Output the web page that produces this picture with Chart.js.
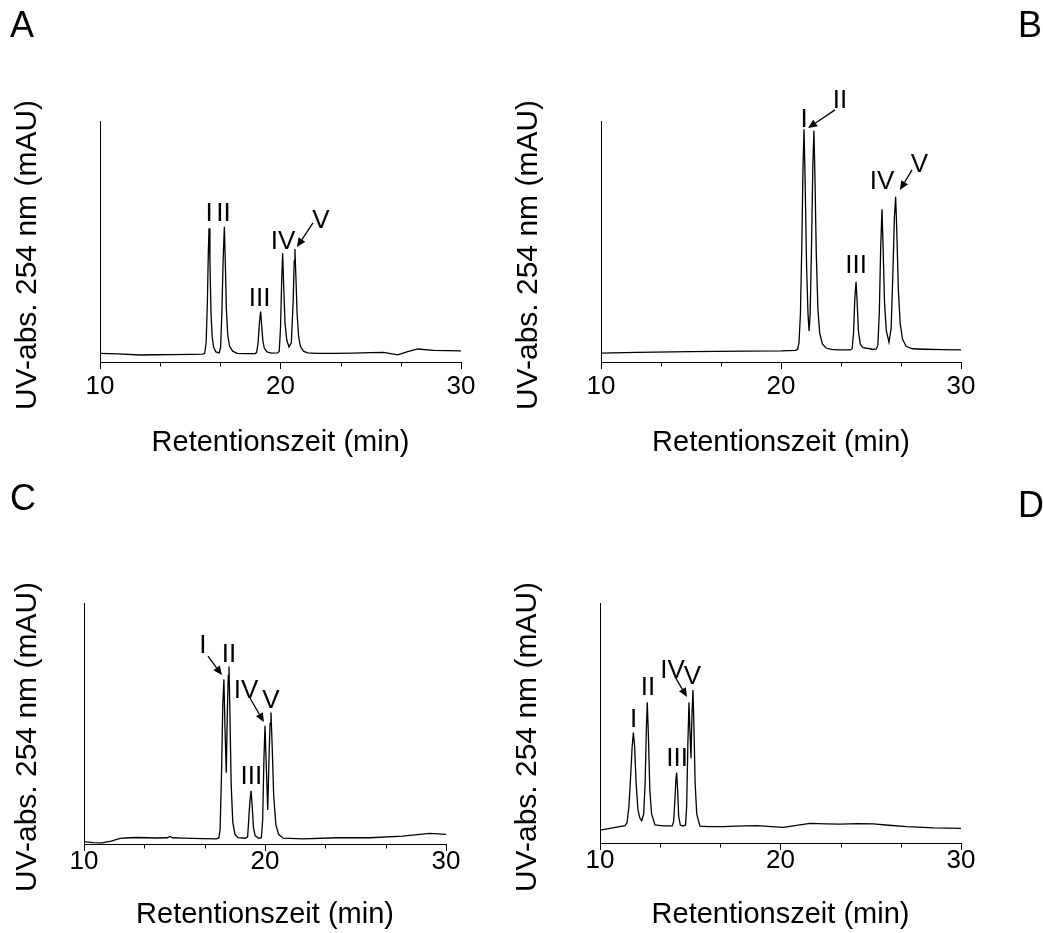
<!DOCTYPE html>
<html>
<head>
<meta charset="utf-8">
<script src="https://cdn.jsdelivr.net/npm/chart.js@4/dist/chart.umd.min.js"></script>
<style>
  html, body { margin: 0; padding: 0; background: #ffffff; }
  body { width: 1043px; height: 933px; position: relative; overflow: hidden; }
  canvas { position: absolute; left: 0; top: 0; }
</style>
</head>
<body>
<canvas id="cA" width="1043" height="933"></canvas>
<canvas id="cB" width="1043" height="933"></canvas>
<canvas id="cC" width="1043" height="933"></canvas>
<canvas id="cD" width="1043" height="933"></canvas>
<script>
// ---------------- data ----------------
const xTickValues = [10, 20, 30];
const xMinorTicks = [13.333, 16.667, 23.333, 26.667];
const xTitle = 'Retentionszeit (min)';
const yTitle = 'UV-abs. 254 nm (mAU)';
const peakNames = ['I', 'II', 'III', 'IV', 'V'];

// chromatogram traces: [retention time (min), absorbance (rel. units)]
const traceA = [
  [10,3.6],[11,3.4],[12.2,2.9],[13,3.0],[14,3.1],[15,3.2],[15.7,3.3],
  [15.8,3.6],[15.88,8],[15.95,25],[16.0,45],[16.04,55.5],[16.09,42],[16.15,20],[16.22,10],[16.3,6],[16.42,4.2],
  [16.6,3.8],[16.68,6],[16.75,20],[16.82,42],[16.89,56.1],[16.94,42],[17.0,22],[17.08,11],[17.18,6.5],[17.35,4.5],[17.6,3.6],
  [18.0,3.5],[18.6,3.5],
  [18.68,4],[18.76,8],[18.84,17],[18.9,20.9],[18.95,16],[19.02,9],[19.1,5.8],[19.25,4.2],[19.5,3.7],
  [19.85,3.8],[19.93,4.5],[20.0,14],[20.07,35],[20.12,45.1],[20.17,33],[20.25,16],[20.35,9],[20.47,6.3],
  [20.6,8],[20.7,25],[20.76,42],[20.8,46.9],[20.85,36],[20.92,20],[21.0,11],[21.1,6.5],[21.27,4.5],[21.5,3.8],
  [22,3.6],[23,3.6],[24,3.7],[25,3.9],[25.7,4.0],[26.5,3.0],[27.0,4.2],[27.6,5.4],[28.5,4.8],[30,4.6]
];
const traceB = [
  [10,3.7],[12,4.0],[15,4.3],[18,4.5],[20,4.6],[20.8,4.8],
  [20.92,5.2],[21.0,8],[21.08,20],[21.16,50],[21.22,80],[21.28,96.6],[21.34,75],[21.42,40],[21.5,20],[21.56,12.9],
  [21.62,20],[21.7,50],[21.77,82],[21.83,96],[21.89,75],[21.96,45],[22.05,22],[22.15,12],[22.3,7.5],[22.5,5.8],[22.8,5.2],[23.2,5.0],
  [23.85,5.0],[23.95,5.5],[24.03,12],[24.1,26],[24.17,33.3],[24.23,25],[24.3,13],[24.4,7.5],[24.55,6],[24.76,5.7],[24.9,5.6],[25.1,5.2],[25.3,5.4],
  [25.38,7],[25.46,20],[25.54,48],[25.61,63.4],[25.67,48],[25.75,25],[25.85,13],[26.0,8.2],
  [26.12,14],[26.22,38],[26.3,60],[26.37,68.6],[26.43,55],[26.52,30],[26.62,16],[26.75,9.5],[26.95,6.5],[27.3,5.5],
  [28,5.3],[29,5.1],[30,5.0]
];
const traceC = [
  [10,1.0],[10.5,0.6],[11,0.5],[11.5,1.2],[12,2.3],[12.5,2.6],[13,2.7],[14,2.5],[14.6,2.6],[14.75,3.1],[14.9,2.6],
  [15.5,2.4],[16.5,2.2],[17.3,2.1],[17.45,2.5],
  [17.52,6],[17.6,30],[17.67,58],[17.73,68.3],[17.79,48],[17.86,29.6],
  [17.92,55],[17.97,70],[18.01,73.6],[18.06,55],[18.13,25],[18.22,9],[18.34,4],[18.5,2.6],[18.9,2.4],
  [19.04,3],[19.1,10],[19.17,18],[19.23,22.1],[19.29,16],[19.36,7],[19.45,3.5],[19.65,2.4],
  [19.8,2.6],[19.87,10],[19.94,35],[20.0,49.1],[20.06,35],[20.15,14.1],
  [20.22,35],[20.28,50],[20.33,54.6],[20.39,42],[20.48,20],[20.6,8],[20.75,4],[21.0,2.4],
  [22.1,2.1],[24,2.6],[25.8,2.6],[27.6,3.3],[29.1,4.4],[30,4.0]
];
const traceD = [
  [10,5.4],[10.7,6.3],[11.39,7.2],
  [11.5,8.5],[11.6,15],[11.7,28],[11.78,40],[11.85,46],[11.92,40],[12.0,25],[12.1,14],[12.2,10.5],[12.31,9.3],
  [12.42,12],[12.5,25],[12.57,48],[12.62,58.6],[12.68,45],[12.76,22],[12.86,12],[13.05,7.5],[13.5,7.1],[14.0,7.1],
  [14.08,9],[14.15,18],[14.21,27],[14.25,29.3],[14.3,22],[14.36,11],[14.45,7.5],[14.6,7.1],
  [14.74,7.5],[14.8,15],[14.87,42],[14.93,58.6],[14.98,47],[15.04,35.3],
  [15.09,52],[15.15,63.75],[15.2,50],[15.27,25],[15.36,12],[15.54,7],
  [16,6.8],[16.83,6.8],[17.5,7.0],[18.68,7.2],[19.5,6.8],[20.16,6.5],[20.8,7.2],[21.63,8.2],[22.5,8.0],
  [23.3,7.9],[24.3,8.1],[25.14,8.0],[26,7.4],[26.99,6.8],[28.5,6.3],[30,6.1]
];

// peak label anchors (time, absorbance) in order I..V
const labelAnchorsA = [[16.04,58.5],[16.84,58.5],[18.84,23.2],[20.14,46.9],[22.24,55.6]];
const labelAnchorsB = [[21.28,97.5],[23.28,105.4],[24.17,36.9],[25.61,71.8],[27.69,78.8]];
const labelAnchorsC = [[16.57,79.3],[18.01,75.5],[19.25,24.9],[18.95,60.6],[20.33,56.6]];
const labelAnchorsD = [[11.86,48.3],[12.66,61.7],[14.27,32.1],[14.02,68.75],[15.12,66.25]];
// arrows [fromTime, fromAbs, toTime, toAbs]
const arrowsA = [[21.80,57.7,20.91,47.7]];
const arrowsB = [[23.0,104.6,21.5,97.1],[27.28,79.7,26.61,71.4]];
const arrowsC = [[16.85,78.0,17.62,70.1],[19.17,60.6,19.94,50.6]];
const arrowsD = [[14.16,69.2,14.82,60.8]];

// ---------------- layout / style ----------------
const FONT = '"Liberation Sans", Arial, Helvetica, sans-serif';
const TICK_SIZE = 26, TITLE_SIZE = 29, YTITLE_SIZE = 30, LETTER_SIZE = 36, PEAK_SIZE = 26;
const W = 1043, H = 933;

const panels = [
  { canvas:'cA', letter:'A', letterPos:[10,37],  area:[100,121,461,362], yTitlePos:[28,255], xTitleY:443, tickPad:2,
    trace:traceA, anchors:labelAnchorsA, arrows:arrowsA },
  { canvas:'cB', letter:'B', letterPos:[1018,37], area:[601,121,961,362], yTitlePos:[529,255], xTitleY:443, tickPad:2,
    trace:traceB, anchors:labelAnchorsB, arrows:arrowsB },
  { canvas:'cC', letter:'C', letterPos:[10,510], area:[84,603,446,844], yTitlePos:[28,737], xTitleY:915, tickPad:-5,
    trace:traceC, anchors:labelAnchorsC, arrows:arrowsC },
  { canvas:'cD', letter:'D', letterPos:[1018,517], area:[600,603,961,843], yTitlePos:[528,737], xTitleY:915, tickPad:-5,
    trace:traceD, anchors:labelAnchorsD, arrows:arrowsD }
];

function overlayFor(P) {
  return {
    id: 'overlay_' + P.canvas,
    afterDraw(chart) {
      const ctx = chart.ctx;
      const xs = chart.scales.x, ys = chart.scales.y;
      ctx.save();
      // minor ticks
      ctx.strokeStyle = '#000';
      ctx.lineWidth = 1;
      ctx.beginPath();
      xMinorTicks.forEach(m => {
        const px = Math.round(xs.getPixelForValue(m)) + 0.5;
        const top = Math.round(xs.top) + 0.5;
        ctx.moveTo(px, top);
        ctx.lineTo(px, top + 4);
      });
      ctx.stroke();
      ctx.fillStyle = '#000';
      // y title
      ctx.save();
      ctx.translate(P.yTitlePos[0], P.yTitlePos[1]);
      ctx.rotate(-Math.PI / 2);
      ctx.font = YTITLE_SIZE + 'px ' + FONT;
      ctx.textAlign = 'center';
      ctx.textBaseline = 'middle';
      ctx.fillText(yTitle, 0, 0);
      ctx.restore();
      // panel letter
      ctx.font = LETTER_SIZE + 'px ' + FONT;
      ctx.textAlign = 'left';
      ctx.textBaseline = 'alphabetic';
      ctx.fillText(P.letter, P.letterPos[0], P.letterPos[1]);
      // peak labels
      ctx.font = PEAK_SIZE + 'px ' + FONT;
      ctx.textAlign = 'center';
      P.anchors.forEach((a, i) => {
        ctx.fillText(peakNames[i], xs.getPixelForValue(a[0]), ys.getPixelForValue(a[1]));
      });
      // arrows
      ctx.lineWidth = 1.3;
      P.arrows.forEach(a => {
        const x1 = xs.getPixelForValue(a[0]), y1 = ys.getPixelForValue(a[1]);
        const x2 = xs.getPixelForValue(a[2]), y2 = ys.getPixelForValue(a[3]);
        const ang = Math.atan2(y2 - y1, x2 - x1);
        const hl = 9, hw = 4;
        const bx = x2 - hl * Math.cos(ang), by = y2 - hl * Math.sin(ang);
        ctx.beginPath();
        ctx.moveTo(x1, y1);
        ctx.lineTo(bx, by);
        ctx.stroke();
        ctx.beginPath();
        ctx.moveTo(x2, y2);
        ctx.lineTo(bx + hw * Math.sin(ang), by - hw * Math.cos(ang));
        ctx.lineTo(bx - hw * Math.sin(ang), by + hw * Math.cos(ang));
        ctx.closePath();
        ctx.fill();
      });
      ctx.restore();
    }
  };
}

function makeChart(P) {
  const [L, T, R, B] = P.area;
  const yScaleLeft = 2;
  const xBottom = P.xTitleY + TITLE_SIZE * 1.2 / 2;
  return new Chart(document.getElementById(P.canvas), {
    type: 'line',
    data: {
      datasets: [{
        data: P.trace.map(([x, y]) => ({ x, y })),
        borderColor: '#000', borderWidth: 1.3, pointRadius: 0, tension: 0, fill: false
      }]
    },
    options: {
      responsive: false, animation: false, devicePixelRatio: 1,
      layout: { padding: { left: yScaleLeft, top: T, right: W - R, bottom: H - xBottom } },
      plugins: { legend: { display: false }, tooltip: { enabled: false }, title: { display: false } },
      scales: {
        x: {
          type: 'linear', position: 'bottom', min: 10, max: 30,
          afterBuildTicks: s => { s.ticks = xTickValues.map(v => ({ value: v })); },
          ticks: { color: '#000', font: { family: FONT, size: TICK_SIZE }, padding: P.tickPad, maxRotation: 0, autoSkip: false },
          grid: { drawOnChartArea: false, drawTicks: true, tickLength: 7, color: '#000', lineWidth: 1 },
          border: { display: true, color: '#000', width: 1 },
          title: { display: true, text: xTitle, color: '#000', font: { family: FONT, size: TITLE_SIZE, lineHeight: 1.2 }, padding: 0 },
          afterFit: s => { s.height = xBottom - B; }
        },
        y: {
          type: 'linear', position: 'left', min: 0, max: 100,
          ticks: { display: false },
          grid: { display: false, drawTicks: false },
          border: { display: true, color: '#000', width: 1 },
          afterFit: s => { s.width = L - yScaleLeft; }
        }
      }
    },
    plugins: [overlayFor(P)]
  });
}

panels.forEach(makeChart);
</script>
</body>
</html>
